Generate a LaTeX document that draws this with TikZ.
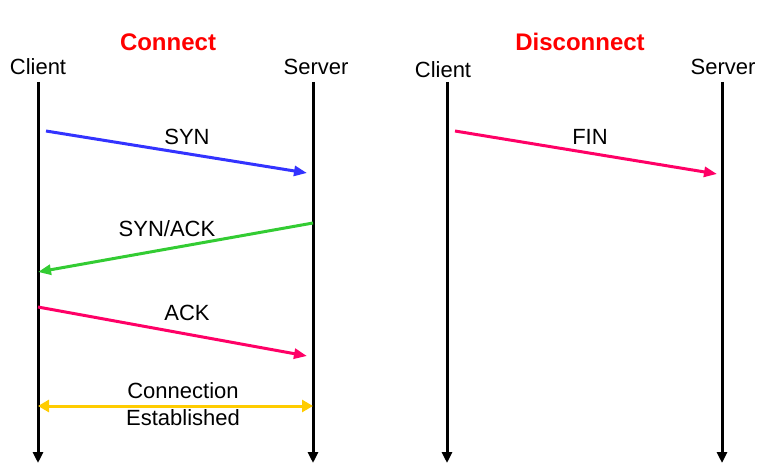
\documentclass[tikz,border=0pt]{standalone}
\usepackage{fontspec}
\setmainfont{Liberation Sans}
\usetikzlibrary{arrows.meta}
\definecolor{synblue}{HTML}{3333FF}
\definecolor{ackgreen}{HTML}{33CC33}
\definecolor{ackpink}{HTML}{FF0066}
\definecolor{estyellow}{HTML}{FFCC00}
\tikzset{
  lifeline/.style={line width=3pt, -{Triangle[length=11pt,width=10pt]}},
  msg/.style={line width=3pt, -{Triangle[length=13pt,width=10pt]}},
  lbl/.style={inner sep=0pt, font=\fontsize{22}{26}\selectfont},
  ttl/.style={inner sep=0pt, text=red, font=\fontsize{24}{28}\selectfont\bfseries}
}
\begin{document}
\begin{tikzpicture}[x=1pt, y=-1pt]
		%%%%% START %%%%%
		\useasboundingbox (0, 0) rectangle (768, 465);
		
		% titles
		\node[ttl] (connect) at (168, 42) {Connect};
		\node[ttl] (disconnect) at (580, 42) {Disconnect};
		
		% lifeline heads
		\node[lbl] (clientA) at (38, 67) {Client};
		\node[lbl] (serverA) at (316, 67) {Server};
		\node[lbl] (clientB) at (443, 70) {Client};
		\node[lbl] (serverB) at (723, 67) {Server};
		
		% lifelines
		\coordinate (cAtop) at (38, 82);    \coordinate (cAbot) at (38, 463);
		\coordinate (sAtop) at (313, 82);   \coordinate (sAbot) at (313, 463);
		\coordinate (cBtop) at (447, 82);   \coordinate (cBbot) at (447, 463);
		\coordinate (sBtop) at (722, 82);   \coordinate (sBbot) at (722, 463);
		\draw[lifeline] (cAtop) -- (cAbot);
		\draw[lifeline] (sAtop) -- (sAbot);
		\draw[lifeline] (cBtop) -- (cBbot);
		\draw[lifeline] (sBtop) -- (sBbot);
		
		% handshake
		\coordinate (synA) at (46, 131);    \coordinate (synB) at (307, 173);
		\draw[msg, synblue] (synA) -- (synB);
		\node[lbl] (syn) at (187, 137) {SYN};
		
		\coordinate (saA) at (313, 223);    \coordinate (saB) at (38, 272);
		\draw[msg, ackgreen] (saA) -- (saB);
		\node[lbl] (synack) at (167, 229) {SYN/ACK};
		
		\coordinate (ackA) at (38, 307);    \coordinate (ackB) at (307, 356);
		\draw[msg, ackpink] (ackA) -- (ackB);
		\node[lbl] (ack) at (187, 313) {ACK};
		
		\coordinate (estA) at (38, 406);    \coordinate (estB) at (313, 406);
		\draw[line width=3pt, estyellow, {Triangle[length=11pt,width=12pt]}-{Triangle[length=11pt,width=12pt]}] (estA) -- (estB);
		\node[lbl] (conn) at (183, 391) {Connection};
		\node[lbl] (estab) at (183, 418) {Established};
		
		% teardown
		\coordinate (finA) at (455, 131);   \coordinate (finB) at (717, 174);
		\draw[msg, ackpink] (finA) -- (finB);
		\node[lbl] (fin) at (590, 137) {FIN};
		
		%%%%% END %%%%%
\end{tikzpicture}
\end{document}
